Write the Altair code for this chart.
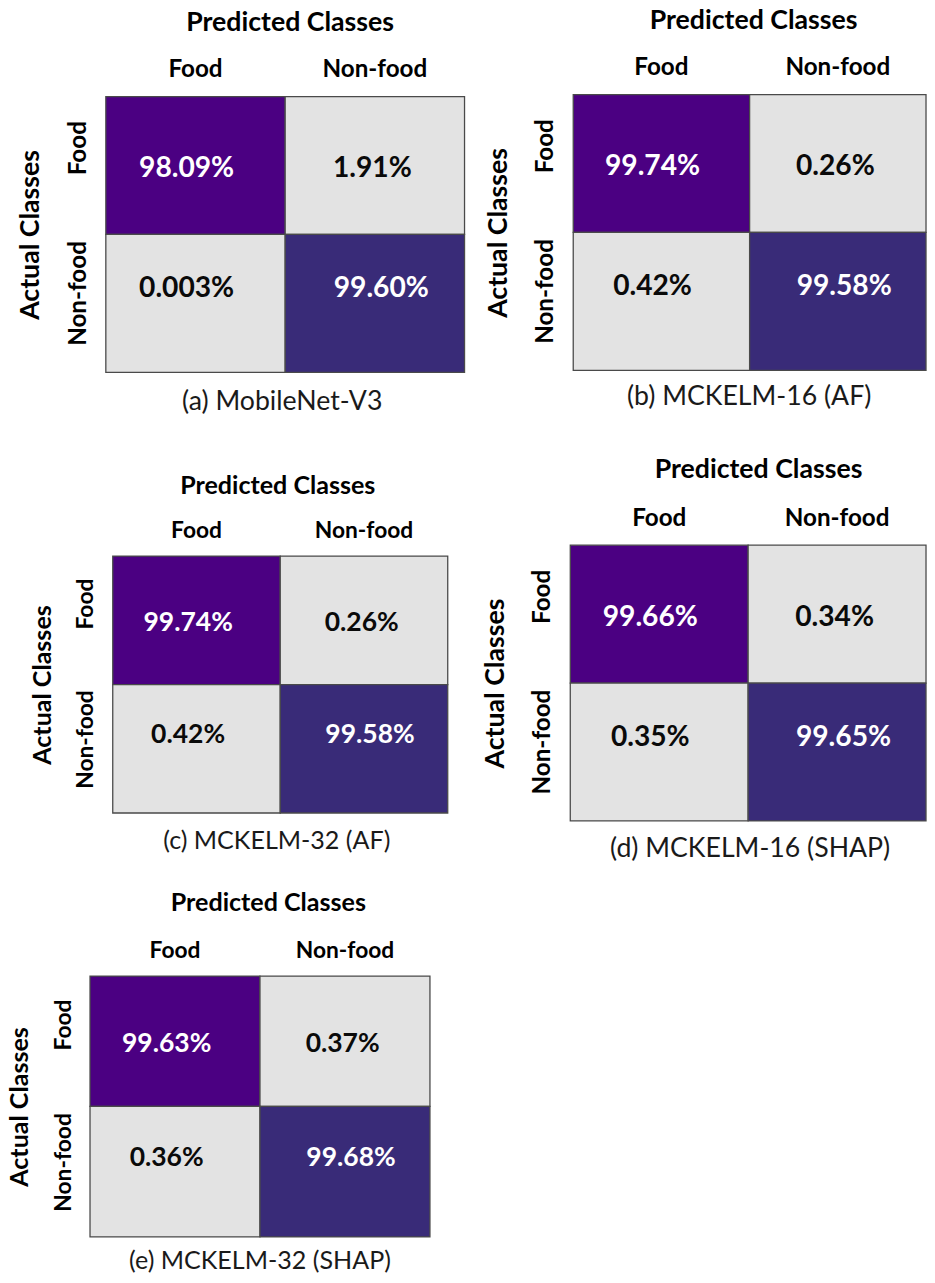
import altair as alt
import pandas as pd

# ---------------- data ----------------
CLASSES = ["Food", "Non-food"]
ACTUAL = ["Food", "Food", "Non-food", "Non-food"]
PREDICTED = ["Food", "Non-food", "Food", "Non-food"]
CAPTIONS = [
    "(a) MobileNet-V3",
    "(b) MCKELM-16 (AF)",
    "(c) MCKELM-32 (AF)",
    "(d) MCKELM-16 (SHAP)",
    "(e) MCKELM-32 (SHAP)",
]
CELL_TEXT = [
    ["98.09%", "1.91%", "0.003%", "99.60%"],
    ["99.74%", "0.26%", "0.42%", "99.58%"],
    ["99.74%", "0.26%", "0.42%", "99.58%"],
    ["99.66%", "0.34%", "0.35%", "99.65%"],
    ["99.63%", "0.37%", "0.36%", "99.68%"],
]

# ---------------- layout / style ----------------
FONT = "Lato"
# mw/mh: matrix size, dx/dy: matrix offset inside the panel, ph: panel height,
# tcx: title centre, lab/tit: label & title baseline gaps above matrix,
# rlab/act: gaps left of matrix, cap: caption baseline below panel bottom, cdx: caption shift
LAYOUT = [
    dict(mw=363, mh=279, dx=16, dy=2, ph=286, s=1.00, tcx=202, lab=20, tit=67, rlab=21, act=68, cap=33, cdx=5),
    dict(mw=357, mh=279, dx=3, dy=0, ph=286, s=1.00, tcx=185, lab=20, tit=67, rlab=21, act=68, cap=28, cdx=1),
    dict(mw=339, mh=260, dx=23, dy=29, ph=302, s=0.94, tcx=189.5, lab=19, tit=63, rlab=20, act=63, cap=23, cdx=8),
    dict(mw=360, mh=279, dx=0, dy=18, ph=302, s=1.00, tcx=190, lab=20, tit=68, rlab=21, act=68, cap=32, cdx=2),
    dict(mw=344, mh=264, dx=0, dy=0, ph=264, s=0.94, tcx=180, lab=19, tit=66, rlab=20, act=63, cap=32, cdx=0),
]

# text placement inside each cell (as in the original figure)
CELL_SHIFT_X = {("Food", "Food"): -9, ("Food", "Non-food"): -2.5,
                ("Non-food", "Food"): -9, ("Non-food", "Non-food"): 6.5}
CELL_SHIFT_Y = {"Food": 3, "Non-food": -15}

FILL_DOMAIN = ["Food", "Non-food", "off"]
FILL_RANGE = ["#4B0082", "#392B78", "#E3E3E3"]


def band_scale(extent, total, offset):
    extra = total - extent
    po = extra / extent
    align = offset / extra if extra > 0 else 0
    return alt.Scale(domain=CLASSES, paddingInner=0, paddingOuter=po, align=align)


def panel(i):
    L = LAYOUT[i]
    s = L["s"]
    W = L["dx"] + L["mw"]
    H = L["ph"]
    df = pd.DataFrame({
        "actual": ACTUAL,
        "pred": PREDICTED,
        "label": CELL_TEXT[i],
    })
    df["kind"] = [a if a == p else "off" for a, p in zip(df["actual"], df["pred"])]

    xenc = alt.X(
        "pred:N",
        sort=CLASSES,
        scale=band_scale(L["mw"], W, L["dx"]),
        axis=alt.Axis(
            orient="top", offset=-L["dy"], domain=False, ticks=False, tickSize=0, grid=False,
            labelAngle=0, labelAlign="center", labelBaseline="alphabetic",
            labelPadding=L["lab"], labelFont=FONT, labelFontSize=24.5 * s,
            labelFontWeight="bold", labelColor="#000000",
            title="Predicted Classes", titleFont=FONT, titleFontSize=27 * s,
            titleFontWeight="bold", titleColor="#000000",
            titleBaseline="alphabetic", titleAlign="center",
            titleX=L["tcx"], titleY=-L["tit"],
        ),
    )
    yenc = alt.Y(
        "actual:N",
        sort=CLASSES,
        scale=band_scale(L["mh"], H, L["dy"]),
        axis=alt.Axis(
            orient="left", offset=-L["dx"], domain=False, ticks=False, tickSize=0, grid=False,
            labelAngle=270, labelAlign="center", labelBaseline="alphabetic",
            labelPadding=L["rlab"],
            labelOffset=alt.condition("datum.value == 'Food'", alt.value(-17.5 * s), alt.value(-10 * s)),
            labelFont=FONT,
            labelFontSize=24.5 * s, labelFontWeight="bold", labelColor="#000000",
            title="Actual Classes", titleFont=FONT, titleFontSize=27 * s,
            titleFontWeight="bold", titleColor="#000000", titleAngle=270,
            titleBaseline="alphabetic", titleAlign="center",
            titleX=-L["act"], titleY=L["dy"] + L["mh"] / 2,
        ),
    )
    base = alt.Chart(df).encode(x=xenc, y=yenc)
    rect = base.mark_rect(stroke="#4a4a4a", strokeWidth=1.3).encode(
        color=alt.Color("kind:N", scale=alt.Scale(domain=FILL_DOMAIN, range=FILL_RANGE), legend=None)
    )
    layers = [rect]
    for a, p in zip(ACTUAL, PREDICTED):
        layers.append(
            base.transform_filter(
                f"datum.actual == '{a}' && datum.pred == '{p}'"
            ).mark_text(
                font=FONT, fontSize=28.5 * s, fontWeight="bold", baseline="middle",
                dx=CELL_SHIFT_X[(a, p)] * s, dy=CELL_SHIFT_Y[a] * s,
                color="#ffffff" if a == p else "#0a0a0a",
            ).encode(text="label:N")
        )
    return alt.layer(*layers).properties(
        width=W,
        height=H,
        title=alt.TitleParams(
            CAPTIONS[i], orient="bottom", anchor="middle", frame="group",
            baseline="alphabetic", offset=L["cap"], dx=L["cdx"],
            font=FONT, fontSize=27 * s, fontWeight="normal", color="#1a1a1a",
        ),
    )


chart = alt.concat(
    *[panel(i) for i in range(5)],
    columns=2,
    spacing=alt.RowColnumber(row=152, column=107),
    bounds="flush",
).configure_view(stroke=None).properties(
    padding={"left": 0, "top": -9, "right": 0, "bottom": 0}, background="white"
)

chart.save("out.html", embed_options={"renderer": "svg", "actions": False})
